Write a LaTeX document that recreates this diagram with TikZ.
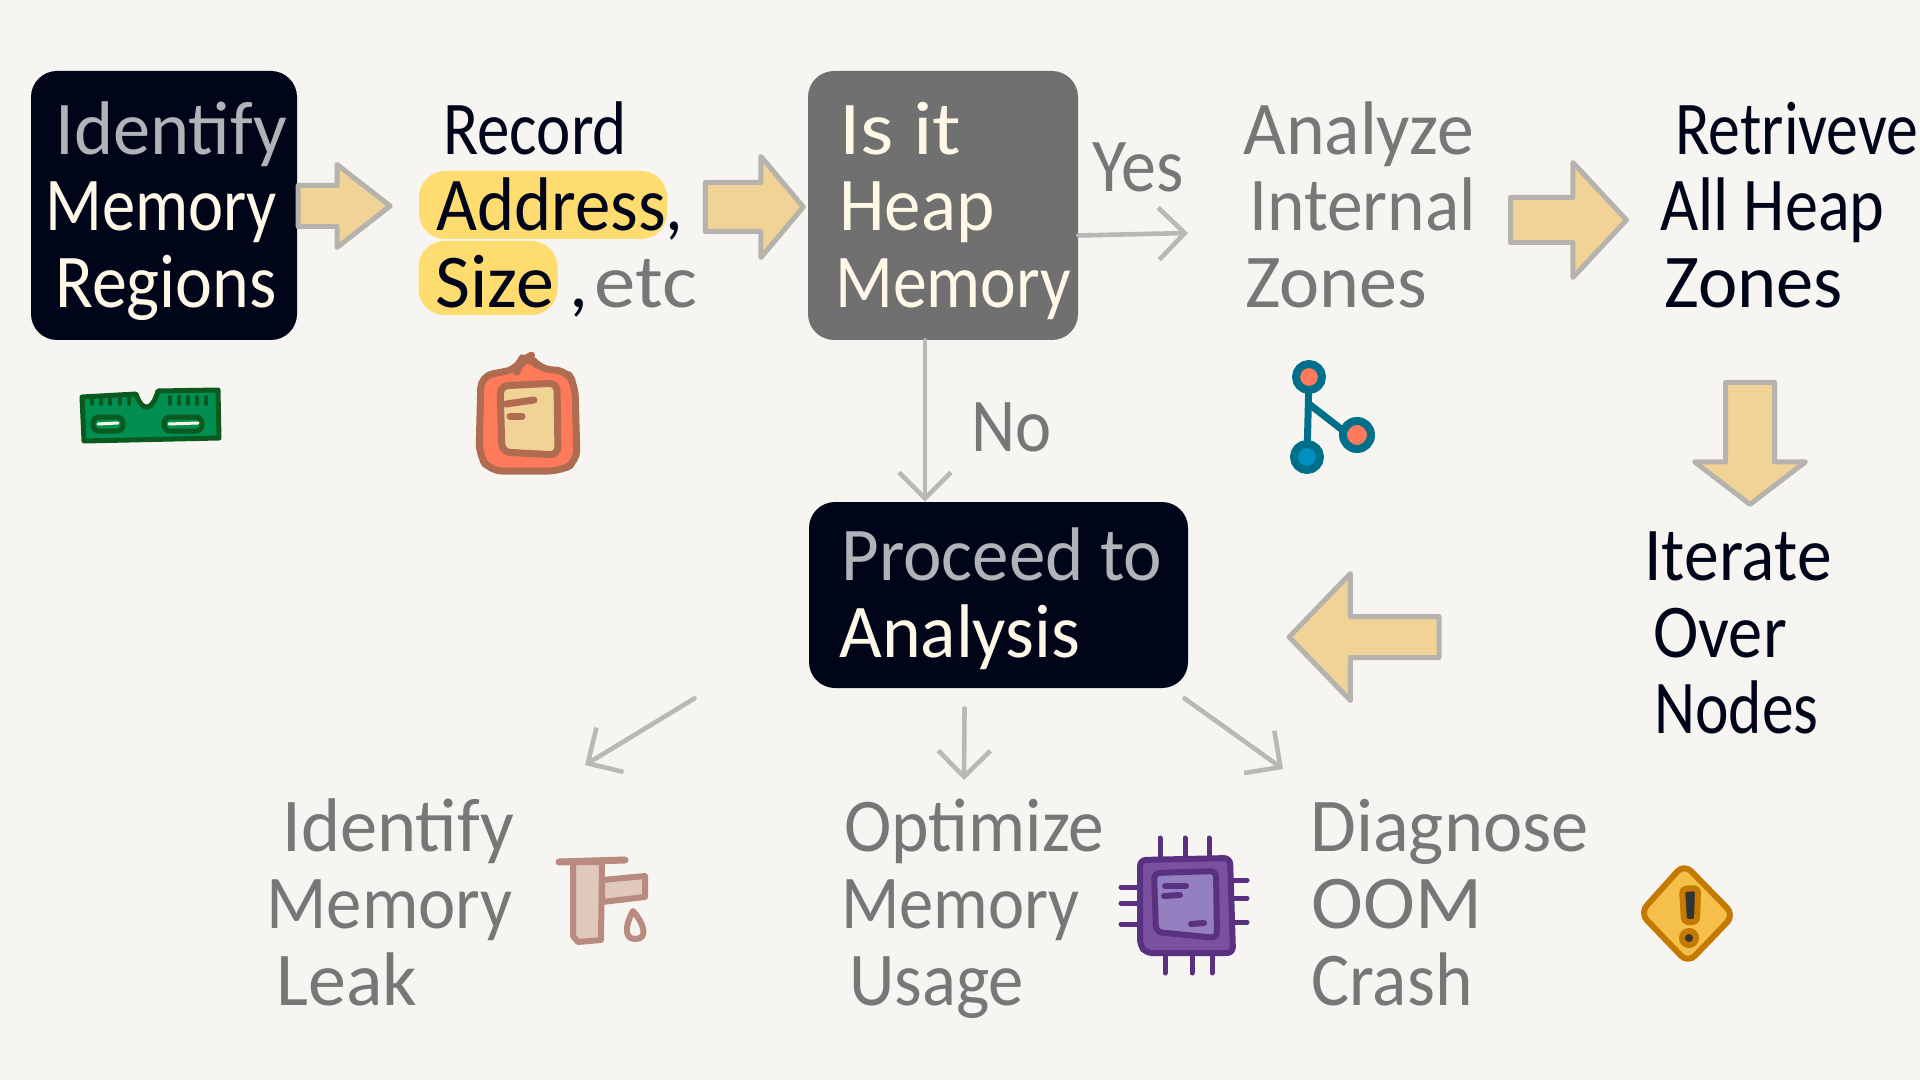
\documentclass[tikz,border=0pt]{standalone}
\usepackage{fontspec}
\setmainfont{Carlito}
\usetikzlibrary{arrows.meta,shapes.arrows}

\definecolor{paper}{HTML}{F6F5F1}
\definecolor{inkblack}{HTML}{00051A}
\definecolor{inkgrey}{HTML}{777777}
\definecolor{inksilver}{HTML}{B2B3B8}
\definecolor{inkcream}{HTML}{FFF8E7}
\definecolor{boxgrey}{HTML}{707070}
\definecolor{marker}{HTML}{FFDC70}
\definecolor{arrowfill}{HTML}{F1D398}
\definecolor{arrowline}{HTML}{B5B3AB}
\definecolor{thinline}{HTML}{B8B8B6}
\definecolor{ramfill}{HTML}{008F50}
\definecolor{ramline}{HTML}{0A5A20}
\definecolor{coral}{HTML}{FF7A5A}
\definecolor{tagline}{HTML}{B06C50}
\definecolor{treeline}{HTML}{00708A}
\definecolor{treeblue}{HTML}{0090C0}
\definecolor{tapline}{HTML}{B88A80}
\definecolor{tapfill}{HTML}{E0C8BC}
\definecolor{chipline}{HTML}{5A3080}
\definecolor{chipfill}{HTML}{7A50A0}
\definecolor{chipcore}{HTML}{9480C0}
\definecolor{warnline}{HTML}{C47A00}
\definecolor{warnfill}{HTML}{F5C04A}

\tikzset{
  handtext/.style={anchor=base west,inner sep=0pt,yshift=-1pt,transform shape,font=\fontsize{38}{40}\selectfont},
  boxnode/.style={fill=#1,rounded corners=13pt,inner sep=0pt},
  markernode/.style={fill=marker,rounded corners=13pt,inner sep=0pt},
  bigarrow/.style={single arrow,draw=arrowline,fill=arrowfill,line width=2.5pt,line join=round,
    inner xsep=0pt},
  thinarrow/.style={draw=thinline,line width=2.3pt,line cap=round,-{Straight Barb[length=13pt,width=26pt]}},
  sketch/.style={line width=#1,line cap=round,line join=round},
}

\begin{document}
\begin{tikzpicture}[x=0.5pt,y=-0.5pt]

  \fill[paper] (0,0) rectangle (1920,1080);
  \useasboundingbox (0,0) rectangle (1920,1080);

  % boxes and highlights
  \node[boxnode=inkblack,minimum width=133pt,minimum height=134.5pt] (regions) at (164,205.5) {};
  \node[boxnode=boxgrey,minimum width=135pt,minimum height=134.5pt] (heap) at (943,205.5) {};
  \node[boxnode=inkblack,minimum width=189.5pt,minimum height=93pt] (proceed) at (998.5,595) {};
  \node[markernode,minimum width=124pt,minimum height=34pt] (markaddress) at (543,205) {};
  \node[markernode,minimum width=69.5pt,minimum height=37pt] (marksize) at (488,278) {};

  % top row text
  \node[handtext,inksilver,xscale=.98] (regionsa) at (55,153) {Identify};
  \node[handtext,inkcream,xscale=.875] (regionsb) at (45,229) {Memory};
  \node[handtext,inkcream,xscale=.92] (regionsc) at (55,306) {Regions};

  \node[handtext,inkblack,xscale=.855] (recorda) at (443,153) {Record};
  \node[handtext,inkblack,xscale=.93] (recordb) at (436,229) {Address,};
  \node[handtext,inkblack] (recordc) at (435,306) {Size};
  \node[handtext,inkblack] (recordd) at (569,306) {,};
  \node[handtext,inkgrey,xscale=1.09] (recorde) at (594,306) {etc};

  \node[handtext,inkcream,xscale=1.12] (heapa) at (839,153) {Is it};
  \node[handtext,inkcream,xscale=.96] (heapb) at (839,229) {Heap};
  \node[handtext,inkcream,xscale=.89] (heapc) at (835,306) {Memory};

  \node[handtext,inkgrey,xscale=.92] (yes) at (1092,190) {Yes};
  \node[handtext,inkgrey,xscale=.9] (no) at (971,449) {No};

  \node[handtext,inkgrey,xscale=.97] (zonesa) at (1243,153) {Analyze};
  \node[handtext,inkgrey,xscale=.94] (zonesb) at (1249,229) {Internal};
  \node[handtext,inkgrey] (zonesc) at (1245,306) {Zones};

  \node[handtext,inkblack,xscale=.84] (alla) at (1675,153) {Retriveve};
  \node[handtext,inkblack,xscale=.87] (allb) at (1660,229) {All Heap};
  \node[handtext,inkblack,xscale=.98] (allc) at (1664,306) {Zones};

  % second row text
  \node[handtext,inkblack,xscale=.915] (itera) at (1644,578) {Iterate};
  \node[handtext,inkblack,xscale=.9] (iterb) at (1653,655) {Over};
  \node[handtext,inkblack,xscale=.835] (iterc) at (1654,731) {Nodes};

  \node[handtext,inksilver,xscale=.96] (proceeda) at (841,578) {Proceed to};
  \node[handtext,inkcream,xscale=.97] (proceedb) at (839,655) {Analysis};

  % bottom row text
  \node[handtext,inkgrey,xscale=.98] (leaka) at (282,849) {Identify};
  \node[handtext,inkgrey,xscale=.93] (leakb) at (266,926) {Memory};
  \node[handtext,inkgrey] (leakc) at (276,1003) {Leak};

  \node[handtext,inkgrey,xscale=.94] (usagea) at (844,849) {Optimize};
  \node[handtext,inkgrey,xscale=.9] (usageb) at (841,926) {Memory};
  \node[handtext,inkgrey,xscale=.93] (usagec) at (849,1003) {Usage};

  \node[handtext,inkgrey,xscale=.98] (ooma) at (1310,849) {Diagnose};
  \node[handtext,inkgrey,xscale=1.03] (oomb) at (1311,926) {OOM};
  \node[handtext,inkgrey,xscale=.94] (oomc) at (1311,1003) {Crash};

  % block arrows
  \node[bigarrow,single arrow tip angle=76,minimum height=46pt,minimum width=39pt,inner ysep=9pt,single arrow head extend=10.5pt] (arrowa) at (331,206) {};
  \node[bigarrow,single arrow tip angle=100,minimum height=49pt,minimum width=48pt,inner ysep=11pt,single arrow head extend=13pt] (arrowb) at (744,207) {};
  \node[bigarrow,single arrow tip angle=94,minimum height=58pt,minimum width=55pt,inner ysep=10pt,single arrow head extend=17.5pt] (arrowc) at (1558,220) {};
  \node[bigarrow,shape border rotate=270,single arrow tip angle=105,minimum height=61pt,minimum width=53pt,inner xsep=11pt,inner ysep=0pt,single arrow head extend=15.5pt] (arrowd) at (1750,434) {};
  \node[bigarrow,shape border rotate=180,single arrow tip angle=92,minimum height=75pt,minimum width=61pt,inner ysep=9pt,single arrow head extend=21.5pt] (arrowe) at (1374,637) {};

  % thin arrows
  \coordinate (yesend) at (1188,233);
  \coordinate (leakend) at (585,765);
  \coordinate (usageend) at (964,780);
  \coordinate (oomend) at (1283,769);
  \draw[thinarrow] ([yshift=-15pt]heap.east) -- (yesend);
  \draw[thinarrow] ([xshift=-9pt]heap.south) -- ([xshift=-36.75pt]proceed.north);
  \draw[thinarrow] ([shift={(-152pt,-5pt)}]proceed.south) -- (leakend);
  \draw[thinarrow] ([shift={(-17pt,-10pt)}]proceed.south) -- (usageend);
  \draw[thinarrow] ([shift={(93pt,-5pt)}]proceed.south) -- (oomend);

  % ram stick
  \draw[sketch=2.5pt,draw=ramline,fill=ramfill]
    (82,397) -- (136,394) .. controls (142,412) and (152,412) .. (158,391) -- (218,390)
    -- (219,438) -- (84,441) -- cycle;
  \foreach \tx in {92,101,110,120,129,170,179,188,197,206}
    \draw[sketch=2pt,draw=ramline] (\tx,397) -- (\tx,404);
  \draw[sketch=2.5pt,draw=ramline,rounded corners=3pt] (93,417) rectangle (123,431);
  \draw[sketch=2.5pt,draw=ramline,rounded corners=3pt] (164,417) rectangle (202,431);
  \draw[sketch=1.5pt,draw=inkcream] (98,424) -- (118,423);
  \draw[sketch=1.5pt,draw=inkcream] (169,424) -- (198,423);

  % tag
  \draw[sketch=3.5pt,draw=tagline,fill=coral,rounded corners=6pt]
    (481,376) -- (518,369) -- (521,361) -- (530,356) -- (541,370) -- (566,370) -- (575,385)
    -- (577,462) -- (560,471) -- (490,471) -- (479,455) -- cycle;
  \draw[sketch=3.5pt,draw=tagline,fill=arrowfill,rounded corners=4pt]
    (500,386) -- (557,383) -- (558,455) -- (502,452) -- cycle;
  \draw[sketch=3.5pt,draw=tagline] (506,404) -- (534,400);
  \draw[sketch=3.5pt,draw=tagline] (510,416) -- (522,416);

  % tree
  \coordinate (leafa) at (1309,377);
  \coordinate (leafb) at (1357,435);
  \coordinate (leafc) at (1307,457);
  \draw[sketch=3.5pt,draw=treeline] (leafa) -- (leafc);
  \draw[sketch=3.5pt,draw=treeline] (1309,404) -- (1345,432);
  \draw[sketch=4pt,draw=treeline,fill=coral] (leafa) circle (6.5pt);
  \draw[sketch=4pt,draw=treeline,fill=coral] (leafb) circle (7pt);
  \draw[sketch=4pt,draw=treeline,fill=treeblue] (leafc) circle (6.5pt);

  % tap
  \draw[sketch=3pt,draw=tapline,fill=tapfill] (573,862) -- (573,936) -- (578,942) -- (601,940) -- (602,862) -- cycle;
  \draw[sketch=3pt,draw=tapline,fill=tapfill] (602,880) -- (645,876) -- (645,897) -- (602,902) -- cycle;
  \draw[sketch=3.5pt,draw=tapline] (559,862) -- (625,860);
  \draw[sketch=3pt,draw=tapline] (633,911) .. controls (625,925) and (624,939) .. (635,939)
    .. controls (648,939) and (645,925) .. cycle;

  % chip
  \foreach \tx/\bx in {1160/1165,1185/1192,1209/1212} {
    \draw[sketch=2.5pt,draw=chipline] (\tx,838) -- (\tx,858);
    \draw[sketch=2.5pt,draw=chipline] (\bx,953) -- (\bx,973);
  }
  \foreach \ly/\ry in {887/880,903/898,924/922} {
    \draw[sketch=2.5pt,draw=chipline] (1121,\ly) -- (1140,\ly);
    \draw[sketch=2.5pt,draw=chipline] (1233,\ry) -- (1247,\ry);
  }
  \draw[sketch=3pt,draw=chipline,fill=chipfill,rounded corners=3pt]
    (1140,860) -- (1230,858) -- (1233,953) -- (1146,953) -- (1140,945) -- cycle;
  \draw[sketch=3pt,draw=chipline,fill=chipcore,rounded corners=3pt]
    (1154,873) -- (1216,871) -- (1217,938) -- (1156,932) -- cycle;
  \draw[sketch=3pt,draw=chipline] (1165,886) -- (1186,886);
  \draw[sketch=3pt,draw=chipline] (1164,896) -- (1180,895);
  \draw[sketch=3pt,draw=chipline] (1191,924) -- (1204,923);

  % warning sign
  \draw[sketch=3pt,draw=warnline,fill=warnfill,rounded corners=5pt]
    (1684,864) -- (1734,915) -- (1688,963) -- (1640,913) -- cycle;
  \draw[sketch=3pt,draw=warnline,fill=black!80,rounded corners=2pt]
    (1682,889) -- (1698,888) -- (1697,922) -- (1684,922) -- cycle;
  \draw[sketch=3pt,draw=warnline,fill=black!80] (1689,938) circle (3.5pt);

\end{tikzpicture}
\end{document}
